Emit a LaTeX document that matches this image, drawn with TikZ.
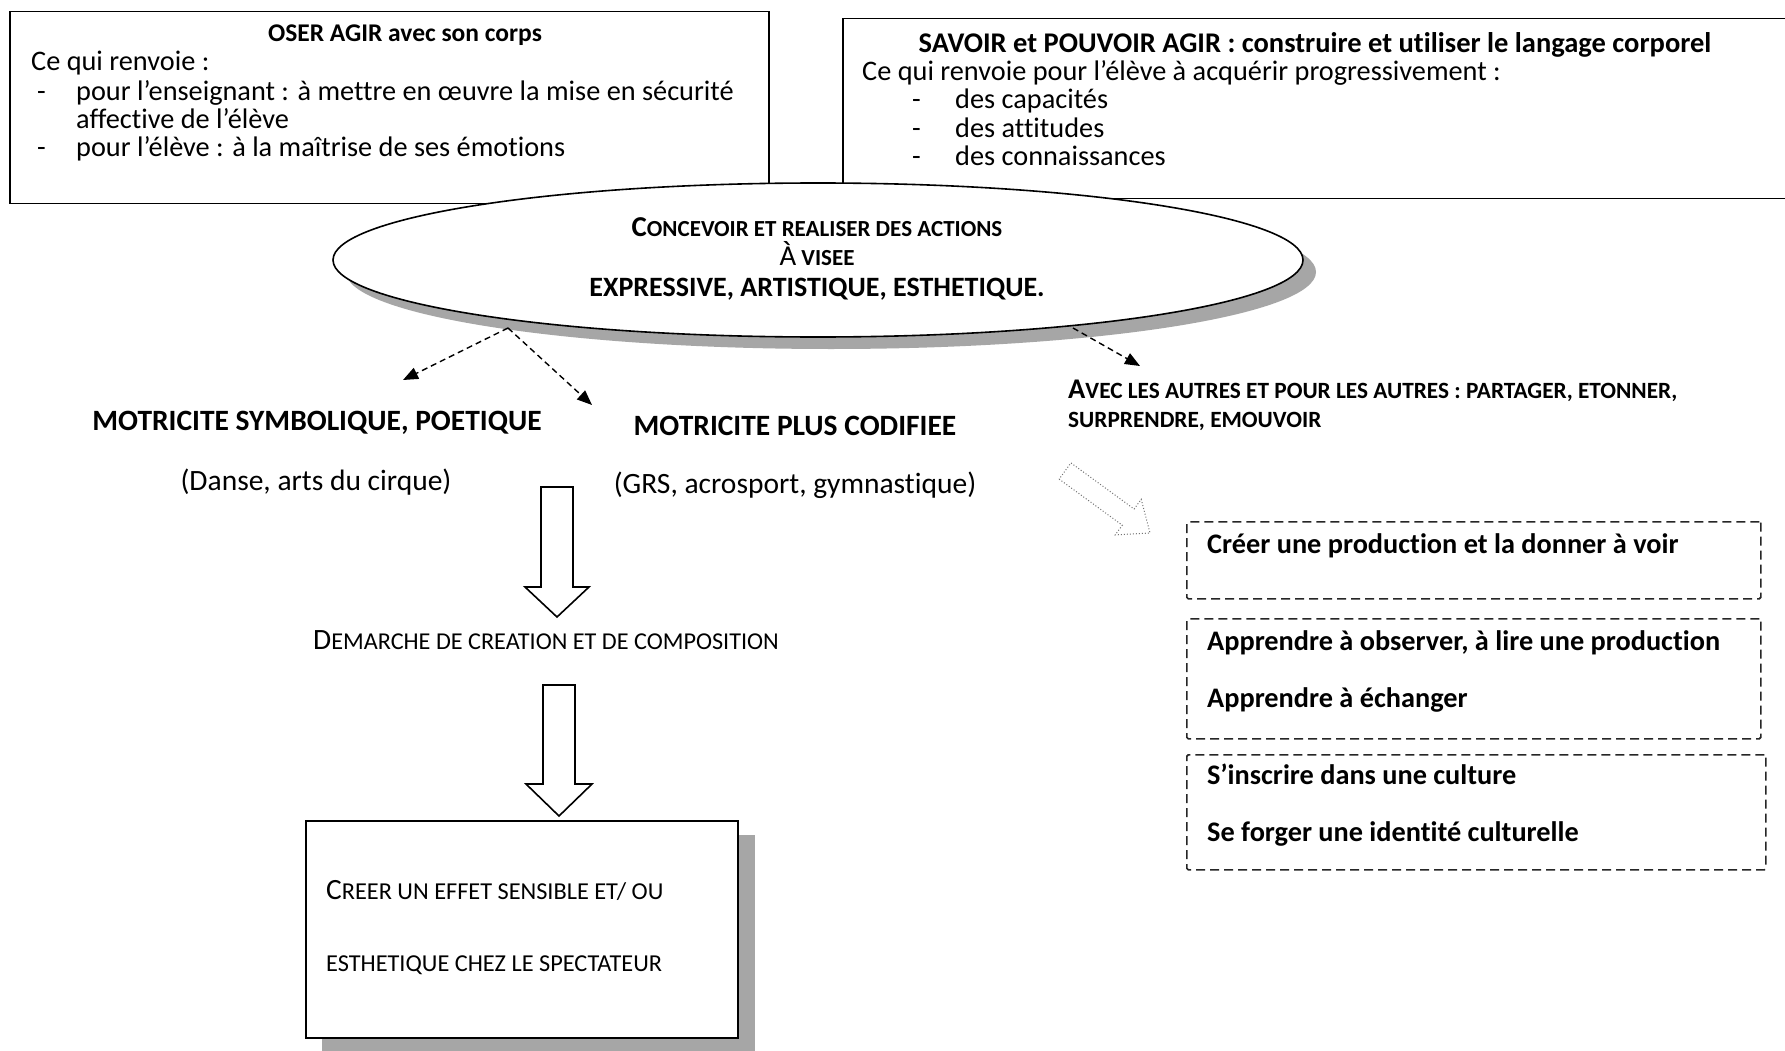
\documentclass[tikz,border=0pt]{standalone}
\usepackage{fontspec}
\setmainfont{Carlito}[Ligatures=NoCommon]
\usetikzlibrary{arrows.meta,shapes.geometric}
\newcommand{\fsz}[2]{{\fontsize{#1}{#1}\selectfont #2}}
\tikzset{
  frame/.style={draw=black, line width=1.5pt, fill=white, inner sep=0pt},
  dbox/.style={draw=black!85, line width=1.6pt, dash pattern=on 9pt off 5pt, inner sep=0pt, rounded corners=1.5pt},
  txt/.style={anchor=mid west, inner sep=0pt, font=\fontsize{28.3}{30}\selectfont},
  btxt/.style={anchor=mid, inner sep=0pt, font=\bfseries\fontsize{28.5}{30}\selectfont},
  dtxt/.style={anchor=mid west, inner sep=0pt, font=\bfseries\fontsize{28.3}{30}\selectfont},
  dasharrow/.style={line width=1.4pt, dash pattern=on 6pt off 4pt, -{Triangle[length=15pt,width=12pt]}},
  blockarrow/.style={draw=black, line width=1.6pt, fill=white, line join=miter},
  shadowgray/.style={fill=black!35}
}
\begin{document}
\begin{tikzpicture}[x=1pt,y=-1pt]
\useasboundingbox (0,0) rectangle (1785,1051);
\fill[white] (0,0) rectangle (1785,1051);

% top-left box
\node[frame, anchor=north west, minimum width=759pt, minimum height=192pt] (oser) at (9,11) {};
\node[btxt, font=\bfseries\fontsize{25.5}{28}\selectfont] (oserT) at (405,39) {OSER AGIR avec son corps};
\node[txt] (oser1) at (31,68) {Ce qui renvoie :};
\node[txt] (oserd1) at (37,98) {-};
\node[txt] (oser2) at (76,98) {pour l’enseignant : à mettre en œuvre la mise en sécurité};
\node[txt] (oser3) at (76,126) {affective de l’élève};
\node[txt] (oserd2) at (37,154) {-};
\node[txt] (oser4) at (76,154) {pour l’élève : à la maîtrise de ses émotions};

% top-right box
\node[frame, anchor=north west, minimum width=960pt, minimum height=180pt] (savoir) at (842,18) {};
\node[btxt] (savT) at (1315,50) {SAVOIR et POUVOIR AGIR : construire et utiliser le langage corporel};
\node[txt] (sav1) at (862,78) {Ce qui renvoie pour l’élève à acquérir progressivement :};
\node[txt] (savd1) at (912,106) {-};
\node[txt] (sav2) at (955,106) {des capacités};
\node[txt] (savd2) at (912,135) {-};
\node[txt] (sav3) at (955,135) {des attitudes};
\node[txt] (savd3) at (912,163) {-};
\node[txt] (sav4) at (955,163) {des connaissances};

% ellipse
\fill[shadowgray] (831,272) ellipse [x radius=485pt, y radius=77pt];
\node[ellipse, draw=black, fill=white, line width=1.6pt, minimum width=970pt, minimum height=154pt, inner sep=0pt] (ell) at (818,260) {};
\node[anchor=mid, inner sep=0pt, font=\bfseries] (ellT1) at (817,234) {\fsz{28.8}{C}\fsz{23}{ONCEVOIR ET REALISER DES ACTIONS}};
\node[anchor=mid, inner sep=0pt] (ellT2) at (817,263) {\fsz{28.8}{À}\fsz{23}{\bfseries\ VISEE}};
\node[anchor=mid, inner sep=0pt, font=\bfseries\fontsize{28}{30}\selectfont] (ellT3) at (817,294) {EXPRESSIVE, ARTISTIQUE, ESTHETIQUE.};

% dashed connectors
\coordinate (srcA) at (508,328);
\coordinate (srcB) at (1073,328);
\coordinate (tipA) at (403,380);
\coordinate (tipB) at (592,405);
\coordinate (tipC) at (1140,366);
\draw[dasharrow] (srcA) -- (tipA);
\draw[dasharrow] (srcA) -- (tipB);
\draw[dasharrow] (srcB) -- (tipC);

% motricite
\node[anchor=mid, inner sep=0pt, font=\bfseries\fontsize{29.5}{32}\selectfont] (motA) at (317,428) {MOTRICITE SYMBOLIQUE, POETIQUE};
\node[anchor=mid, inner sep=0pt, font=\bfseries\fontsize{29.5}{32}\selectfont] (motB) at (795,433) {MOTRICITE PLUS CODIFIEE};
\node[anchor=mid, inner sep=0pt, font=\fontsize{29.5}{32}\selectfont] (motA2) at (316,488) {(Danse, arts du cirque)};
\node[anchor=mid, inner sep=0pt, font=\fontsize{29.5}{32}\selectfont] (motB2) at (795,491) {(GRS, acrosport, gymnastique)};

% avec les autres
\node[anchor=mid west, inner sep=0pt, font=\bfseries] (avec1) at (1068,396) {\fsz{28.5}{A}\fsz{23.3}{VEC LES AUTRES ET POUR LES AUTRES : PARTAGER, ETONNER,}};
\node[anchor=mid west, inner sep=0pt, font=\bfseries] (avec2) at (1068,425) {\fsz{23.3}{SURPRENDRE, EMOUVOIR}};

% dotted hollow arrow
\draw[draw=black!55, line width=1pt, dotted, fill=white]
  (1059.1,479.1) -- (1122.3,525.2) -- (1115.2,534.9) -- (1150,533) -- (1141.2,499.3) -- (1134.1,509.0) -- (1070.9,462.9) -- cycle;

% block arrows
\draw[blockarrow] (541,487) -- (573,487) -- (573,587) -- (589,587) -- (557,617) -- (525,587) -- (541,587) -- cycle;
\node[anchor=mid, inner sep=0pt] (demarche) at (546,647) {\fsz{29.5}{D}\fsz{24.2}{EMARCHE DE CREATION ET DE COMPOSITION}};
\draw[blockarrow] (543,685) -- (575,685) -- (575,784) -- (592,784) -- (559,816) -- (526,784) -- (543,784) -- cycle;

% bottom box
\fill[shadowgray] (322,835) rectangle (755,1060);
\node[frame, anchor=north west, minimum width=432pt, minimum height=217pt] (effet) at (305,820) {};
\node[anchor=mid west, inner sep=0pt] (effet1) at (326,897) {\fsz{29.4}{C}\fsz{24.3}{REER UN EFFET SENSIBLE ET/ OU}};
\node[anchor=mid west, inner sep=0pt] (effet2) at (326,969) {\fsz{24.3}{ESTHETIQUE CHEZ LE SPECTATEUR}};

% dashed boxes
\node[dbox, anchor=north west, minimum width=574pt, minimum height=77pt] (b1) at (1186,521) {};
\node[dtxt] (b1t) at (1207,551) {Créer une production et la donner à voir};
\node[dbox, anchor=north west, minimum width=574pt, minimum height=120pt] (b2) at (1186,618) {};
\node[dtxt] (b2t1) at (1207,648) {Apprendre à observer, à lire une production};
\node[dtxt] (b2t2) at (1207,705) {Apprendre à échanger};
\node[dbox, anchor=north west, minimum width=579pt, minimum height=115pt] (b3) at (1186,754) {};
\node[dtxt] (b3t1) at (1207,782) {S’inscrire dans une culture};
\node[dtxt] (b3t2) at (1207,839) {Se forger une identité culturelle};
\end{tikzpicture}
\end{document}
